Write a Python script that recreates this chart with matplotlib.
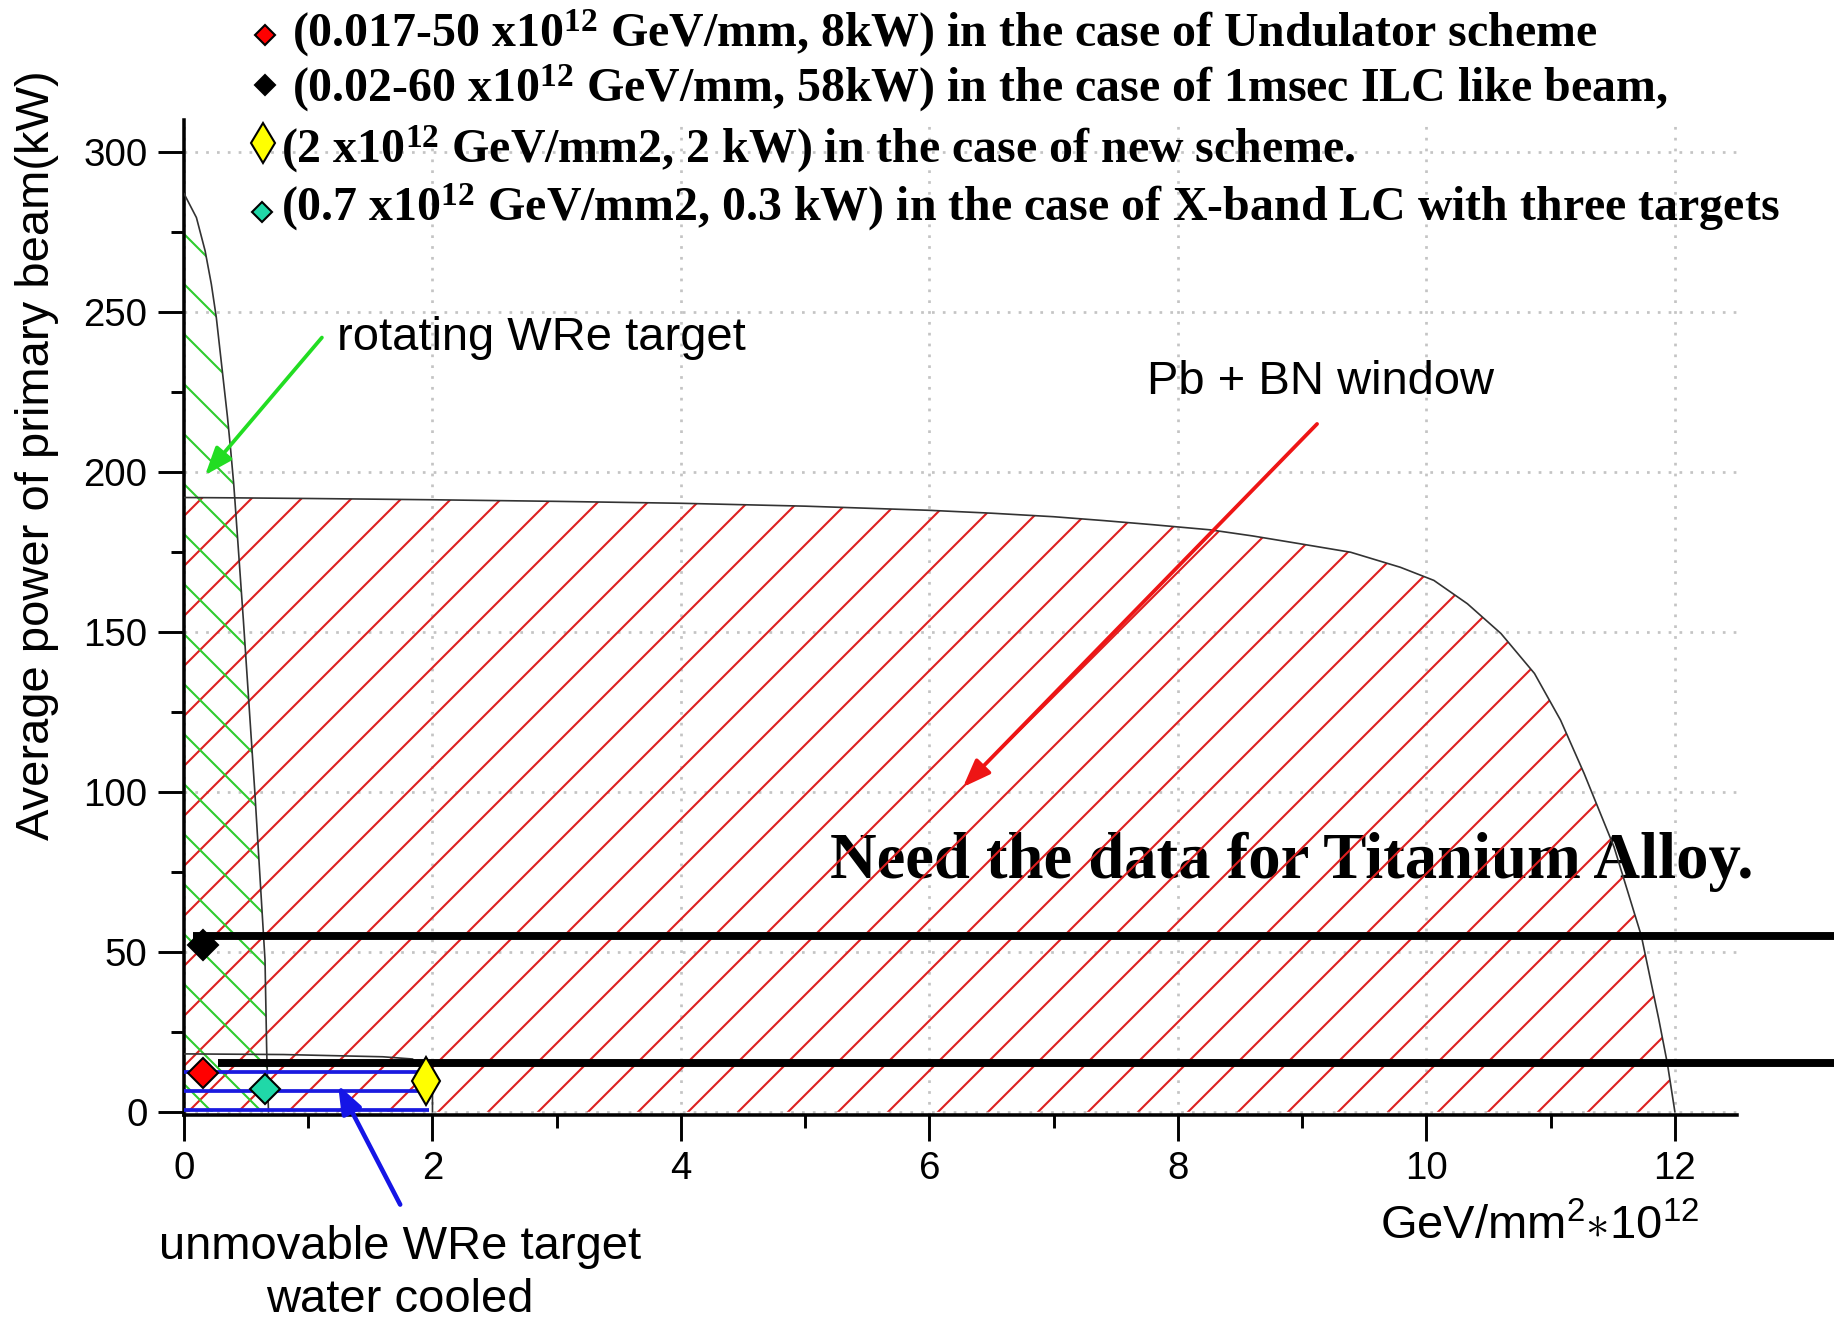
import numpy as np
import matplotlib.pyplot as plt
from matplotlib.ticker import MultipleLocator

plt.rcParams['font.family'] = ['Liberation Sans', 'DejaVu Sans']
plt.rcParams['mathtext.fontset'] = 'custom'
plt.rcParams['mathtext.rm'] = 'Liberation Serif:bold'
plt.rcParams['mathtext.sf'] = 'Liberation Sans'
plt.rcParams['mathtext.default'] = 'rm'
plt.rcParams['hatch.linewidth'] = 1.0

# Pb + BN window limit curve
pb_x = [0, 0.4, 1, 2, 3, 4, 5, 6, 6.5, 7, 7.4, 7.8, 8.26, 8.6, 8.99, 9.39, 9.79,
        10.06, 10.33, 10.6, 10.87, 11.08, 11.27, 11.4, 11.51, 11.73, 11.87, 11.94, 12.0]
pb_y = [192, 191.9, 191.7, 191.3, 190.8, 190.2, 189.3, 188.0, 187.1, 186.0, 184.8,
        183.5, 181.9, 180.0, 177.5, 174.9, 170.2, 166.1, 158.8, 149.5, 137, 122.4,
        105.7, 93.3, 82.8, 55, 29, 15, 0]

# rotating WRe target limit (x given as function of power)
rot_p = [0, 18.4, 47.5, 100, 153.6, 191, 196.3, 206.7, 217.1, 227.5, 237.9, 248.3,
         258.7, 269.1, 279.5, 287]
rot_x = [0.68, 0.666, 0.652, 0.57, 0.478, 0.41, 0.40, 0.376, 0.35, 0.32, 0.29, 0.26,
         0.22, 0.17, 0.10, 0.0]

# unmovable WRe target, water cooled
unm_x = [0, 0.8, 1.6, 1.84, 1.95, 2.0, 2.0]
unm_y = [18.1, 17.9, 17.2, 16.5, 12, 6, 0]
unm_levels = [0.6, 6.4, 12.3]
unm_xmax = 1.97

# operating points
pt_x = [0.15, 0.15, 1.95, 0.65]
pt_y = [12, 52, 9.5, 7]
pt_colors = ['#ff0000', '#000000', '#ffff00', '#20d8a8']
pt_markers = ['D', 'D', 'd', 'D']
pt_sizes = [10.2, 10, 16, 10.4]

# required levels (thick black bars)
bar_y = [55, 15.3]
bar_x0 = [0.07, 0.27]

legend_lines = [
    '(0.017-50 x10$^{12}$ GeV/mm, 8kW) in the case of Undulator scheme',
    '(0.02-60 x10$^{12}$ GeV/mm, 58kW) in the case of 1msec ILC like beam,',
    '(2 x10$^{12}$ GeV/mm2, 2 kW) in the case of new scheme.',
    '(0.7 x10$^{12}$ GeV/mm2, 0.3 kW) in the case of X-band LC with three targets',
]
legend_sizes = [6.5, 6.5, 13.6, 7.1]

W, H = 1834, 1322
fig = plt.figure(figsize=(W / 150, H / 150), dpi=150)
ax = fig.add_axes([184 / W, 207 / H, 1553 / W, 995 / H])

ax.set_xlim(0, 12.5)
ax.set_ylim(-1, 310)
ax.set_axisbelow(True)
ax.grid(True, color='#c4c4c4', linestyle=(0, (1, 3)), linewidth=1.3)

# hatched regions
ax.fill_between(pb_x, pb_y, 0, facecolor='none', edgecolor='#dd2020',
                linewidth=0, hatch='/', zorder=2)
ax.fill_betweenx(rot_p, 0, rot_x, facecolor='none', edgecolor='#2ecc2e',
                 linewidth=0, hatch='\\', zorder=2)
ax.plot(pb_x, pb_y, color='#333333', lw=0.8, zorder=3)
ax.plot(rot_x, rot_p, color='#333333', lw=0.8, zorder=3)
ax.plot(unm_x, unm_y, color='#333333', lw=0.8, zorder=3)
ax.hlines(unm_levels, 0, unm_xmax, color='#1a1ae0', lw=1.8, zorder=3)

# required levels
ax.hlines(bar_y, bar_x0, 13.4, color='black', lw=3.8, zorder=4, clip_on=False)

for x, y, c, m, s in zip(pt_x, pt_y, pt_colors, pt_markers, pt_sizes):
    ax.plot(x, y, marker=m, ms=s, mfc=c, mec='black', mew=1.0, ls='none',
            zorder=5, clip_on=False)

# arrows and labels
arr = '-|>,head_length=0.45,head_width=0.17'
ax.annotate('', xy=(0.17, 199), xytext=(1.11, 242),
            arrowprops=dict(arrowstyle=arr, mutation_scale=25, color='#22dd22',
                            lw=1.8, shrinkA=0, shrinkB=0), zorder=6)
ax.annotate('', xy=(6.27, 101.5), xytext=(9.12, 215),
            arrowprops=dict(arrowstyle=arr, mutation_scale=25, color='#ee1515',
                            lw=1.8, shrinkA=0, shrinkB=0), zorder=6)
ax.annotate('', xy=(1.24, 8.4), xytext=(1.74, -29),
            arrowprops=dict(arrowstyle=arr, mutation_scale=25, color='#1515e6',
                            lw=2.2, shrinkA=0, shrinkB=0),
            annotation_clip=False, zorder=6)

ax.text(1.23, 242, 'rotating WRe target', fontsize=22.6, va='center', ha='left')
ax.text(7.75, 228, 'Pb + BN window', fontsize=22.6, va='center', ha='left')
ax.text(1.74, -50.5, 'unmovable WRe target\nwater cooled', fontsize=22.6,
        ha='center', va='center', linespacing=1.25, clip_on=False)
ax.text(12.2, -36, r'GeV/mm$\mathsf{^{2}{\ast}10^{12}}$', fontsize=22.6,
        ha='right', va='center', clip_on=False)
ax.text(5.2, 78, 'Need the data for Titanium Alloy.', fontsize=31,
        family='Liberation Serif', weight='bold', va='center', ha='left', zorder=1.5)

# axes styling
ax.spines['top'].set_visible(False)
ax.spines['right'].set_visible(False)
for s in ('left', 'bottom'):
    ax.spines[s].set_linewidth(1.7)
ax.xaxis.set_major_locator(MultipleLocator(2))
ax.xaxis.set_minor_locator(MultipleLocator(1))
ax.yaxis.set_major_locator(MultipleLocator(50))
ax.yaxis.set_minor_locator(MultipleLocator(25))
ax.tick_params(which='major', length=12.5, width=1.4, labelsize=18.5, pad=5)
ax.tick_params(which='minor', length=6.2, width=1.4)
ax.set_yticks([0, 50, 100, 150, 200, 250, 300])

fig.text(37 / W, 1 - 455 / H, 'Average power of primary beam(kW)', fontsize=22.6,
         rotation=90, ha='center', va='center')

# header legend
text_x = [292, 292, 281, 281]
text_y = [33, 88, 149, 207]
mark_x = [265, 265, 263, 262]
mark_y = [35, 85, 143, 212]
for i, line in enumerate(legend_lines):
    fig.text(text_x[i] / W, 1 - text_y[i] / H, line, fontsize=23,
             family='Liberation Serif', weight='bold', ha='left', va='center')
    ax.plot(mark_x[i] / W, 1 - mark_y[i] / H, marker=pt_markers[i], ms=legend_sizes[i],
            mfc=pt_colors[i], mec='black', mew=1.0, ls='none',
            transform=fig.transFigure, clip_on=False, zorder=7)

fig.savefig('out.png', dpi=150)
